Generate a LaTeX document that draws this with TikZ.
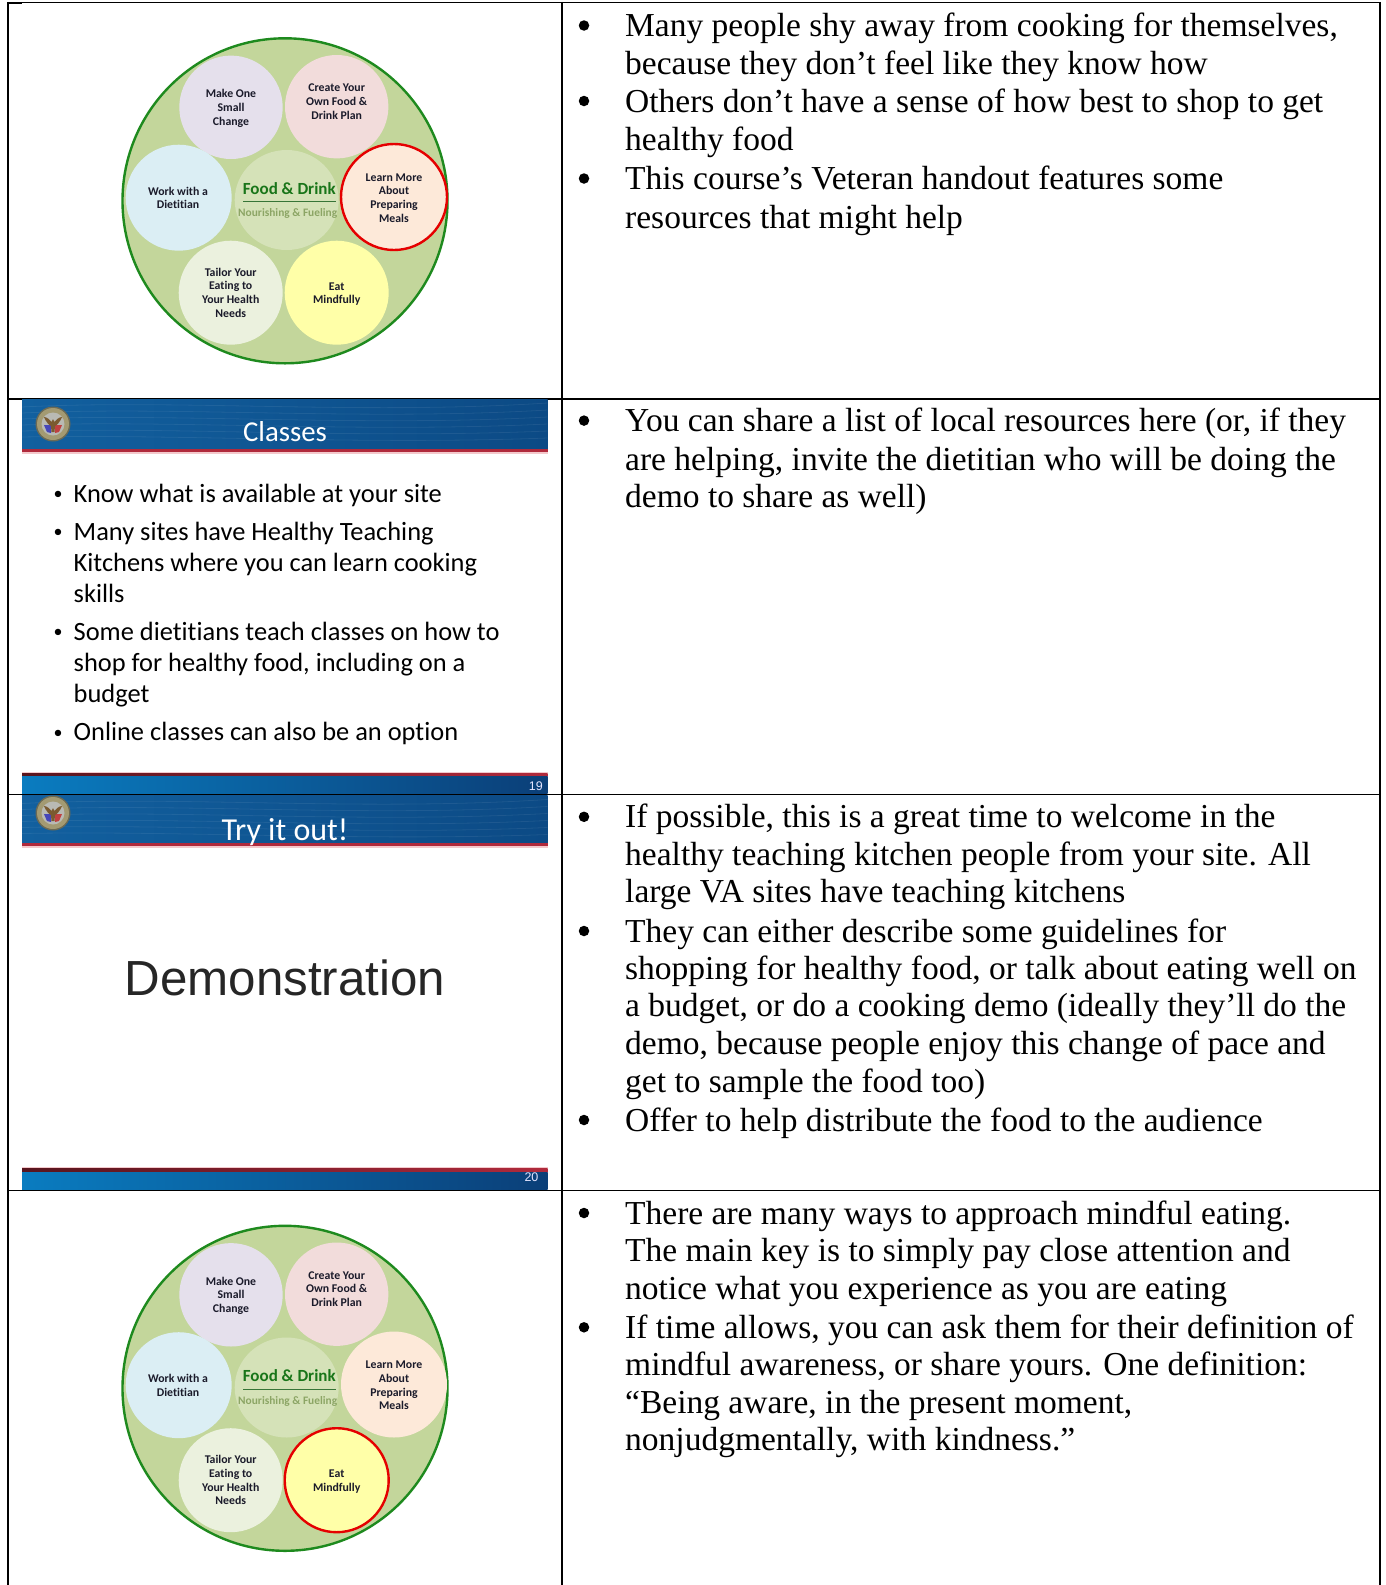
\documentclass[tikz,border=0pt]{standalone}
\usepackage{fontspec}
\setmainfont{Liberation Serif}
\newfontfamily\camfont{Liberation Serif}
\newfontfamily\calfont[Ligatures=NoCommon]{Carlito}
\newfontfamily\arifont{Liberation Sans}
\definecolor{platefill}{HTML}{C3D69B}
\definecolor{plateline}{HTML}{1E8A1E}
\definecolor{centerfill}{HTML}{D5E2B8}
\definecolor{vablue}{HTML}{12609F}
\definecolor{varight}{HTML}{0C4A85}
\definecolor{footleft}{HTML}{0A7CC0}
\definecolor{footright}{HTML}{0B3F78}
\definecolor{varred}{HTML}{B02A3C}
\definecolor{varpink}{HTML}{F4C9CC}
\definecolor{labeltext}{HTML}{1A1A2A}
\definecolor{nourish}{HTML}{8CA565}
\definecolor{cmake}{HTML}{E5E0EC}
\definecolor{ccreate}{HTML}{F2DCDB}
\definecolor{cwork}{HTML}{DBEEF4}
\definecolor{clearn}{HTML}{FDE9D9}
\definecolor{ctailor}{HTML}{EBF1DE}
\definecolor{ceat}{HTML}{FFFFA8}
\definecolor{ringtan}{HTML}{A39A72}
\definecolor{ringdark}{HTML}{6B6A55}
\definecolor{emblemin}{HTML}{B9BAB4}
\definecolor{eaglebr}{HTML}{7A5A30}
\tikzset{
  vline/.style={line width=2.4pt,black},
  hline/.style={line width=1.5pt,black},
  rtext/.style={anchor=base west,inner sep=0pt,font=\camfont\fontsize{33.5}{38}\selectfont},
  rbullet/.style={circle,fill=black,inner sep=0pt,minimum size=10.5pt},
  stext/.style={anchor=base west,inner sep=0pt,font=\calfont\fontsize{26.4}{31}\selectfont},
  sbullet/.style={anchor=base,inner sep=0pt,font=\calfont\fontsize{18}{20}\selectfont},
  slidetitle/.style={anchor=base,inner sep=0pt,text=white,font=\calfont},
  slidenum/.style={anchor=base east,inner sep=0pt,text=white!90!blue,font=\arifont\fontsize{12.5}{14}\selectfont},
  plabel/.style={align=center,inner sep=0pt,text=labeltext,font=\calfont\bfseries\fontsize{11.8}{13.7}\selectfont},
  pcirc/.style={circle,inner sep=0pt,minimum size=#1},
  hilite/.style={draw=red!90!black,line width=2.4pt},
  nohilite/.style={},
}
\newcommand{\plate}[4]{%
  \begin{scope}[yshift=-#2pt]
    \node[circle,draw=plateline,line width=2.4pt,fill=platefill,minimum size=325pt,inner sep=0pt] (#1outer) at (285,200.8) {};
    \fill[centerfill] (286.7,200) ellipse [x radius=52,y radius=50];
    \node[pcirc=103.4pt,fill=cmake] (#1mk) at (231,107.3) {};
    \node[pcirc=103.4pt,fill=ccreate] (#1cr) at (336.7,106.7) {};
    \node[pcirc=106pt,fill=cwork] (#1wk) at (178.7,197.7) {};
    \node[pcirc=104pt,fill=ctailor] (#1tl) at (230.7,292.7) {};
    \node[pcirc=106pt,fill=clearn,#3] (#1lr) at (394,197) {};
    \node[pcirc=104pt,fill=ceat,#4] (#1ea) at (336.7,292.7) {};
    \node[plabel] (#1mkt) at (231,108.3) {Make One\\Small\\Change};
    \node[plabel] (#1crt) at (336.7,101.5) {Create Your\\Own Food \&\\Drink Plan};
    \node[plabel] (#1wkt) at (178,198) {Work with a\\Dietitian};
    \node[plabel] (#1lrt) at (394,198) {Learn More\\About\\Preparing\\Meals};
    \node[plabel] (#1tlt) at (230.7,292.7) {Tailor Your\\Eating to\\Your Health\\Needs};
    \node[plabel] (#1eat) at (336.7,294) {Eat\\Mindfully};
    \node[anchor=base,inner sep=0pt,text=plateline!85!black,font=\calfont\bfseries\fontsize{17}{20}\selectfont] (#1fd) at (289.3,194) {Food \& Drink};
    \draw[line width=1pt,black!20!plateline!70!gray] (243,201.7) -- (336,201.7);
    \node[anchor=base,inner sep=0pt,text=nourish,font=\calfont\bfseries\fontsize{11.4}{14}\selectfont] (#1nr) at (287.7,216.7) {Nourishing \& Fueling};
  \end{scope}}
\newcommand{\emblem}[3]{%
  \begin{scope}[shift={(#2,#3)}]
    \node[circle,fill=ringdark,minimum size=35pt,inner sep=0pt] (#1ring) at (0,0) {};
    \node[circle,fill=ringtan,minimum size=32pt,inner sep=0pt] (#1gold) at (0,0) {};
    \node[circle,fill=emblemin,minimum size=23pt,inner sep=0pt] (#1in) at (0,0) {};
    \fill[blue!45!gray] (-9,1) -- (-2,1) -- (-2,9) -- (-6,8) -- cycle;
    \fill[red!50!gray] (9,1) -- (2,1) -- (2,9) -- (6,8) -- cycle;
    \fill[eaglebr] (-9,-7) .. controls (-7,-2) and (-4,1) .. (-2,2) -- (-1.5,8) -- (1.5,8) -- (2,2) .. controls (4,1) and (7,-2) .. (9,-7) .. controls (6,-7) and (3,-4) .. (1.5,-2) -- (0,-5) -- (-1.5,-2) .. controls (-3,-4) and (-6,-7) .. (-9,-7) -- cycle;
  \end{scope}}
\newcommand{\banner}[3]{% name, top y, bottom y of blue
  \shade[left color=vablue,right color=varight] (22,#2) rectangle (547.5,#3);
  \begin{scope}
    \clip (22,#2) rectangle (547.5,#3);
    \foreach \k in {0,1,...,5}
      \draw[white,opacity=.07,line width=.8pt] (22,#2+8+\k*6) .. controls (180,#2+\k*7) and (360,#2+16+\k*6) .. (547.5,#2+4+\k*7);
  \end{scope}
  \fill[varred] (22,#3) rectangle (547.5,#3+3.4);
  \fill[varpink] (22,#3+3.4) rectangle (547.5,#3+5.4);
}
\newcommand{\footer}[2]{% top y, bottom y
  \fill[varpink] (22,#1) rectangle (547.5,#1+1.4);
  \shade[left color=black!50!varred,right color=varred] (22,#1+1.4) rectangle (547.5,#1+5);
  \shade[left color=footleft,right color=footright] (22,#1+5) rectangle (547.5,#2);
}
\begin{document}
\begin{tikzpicture}[x=1pt,y=-1pt]
\useasboundingbox (0,0) rectangle (1385,1585);
\fill[white] (0,0) rectangle (1385,1585);
% grid
\coordinate (tl) at (8,2.6);
\coordinate (tm) at (562,2.6);
\coordinate (tr) at (1380,2.6);
\coordinate (bl) at (8,1585);
\coordinate (bm) at (562,1585);
\coordinate (br) at (1380,1585);
\draw[vline] (8,1.8) -- (bl);
\draw[vline] (562,1.8) -- (bm);
\draw[vline] (1380,1.8) -- (br);
\draw[hline] (tl) -- (tr);
\draw[vline] (8,3) -- (22,3);
\draw[hline] (8,399) -- (1380,399);
\draw[hline] (8,794.3) -- (1380,794.3);
\draw[hline] (8,1190.7) -- (1380,1190.7);
% plates
\plate{a}{0}{hilite}{nohilite}
\plate{b}{1187.5}{nohilite}{hilite}
% slide 2
\banner{c}{399}{449}
\emblem{c}{53}{424}
\node[slidetitle,font=\calfont\fontsize{28.8}{32}\selectfont] (ctitle) at (285,441) {Classes};
\node[sbullet] (s1b) at (58,499.5) {•};
\node[stext] (s1) at (73.5,502.5) {Know what is available at your site};
\node[sbullet] (s2b) at (58,537.5) {•};
\node[stext] (s2) at (73.5,540) {Many sites have Healthy Teaching};
\node[stext] (s3) at (73.5,571.5) {Kitchens where you can learn cooking};
\node[stext] (s4) at (73.5,602.5) {skills};
\node[sbullet] (s5b) at (58,637.5) {•};
\node[stext] (s5) at (73.5,640) {Some dietitians teach classes on how to};
\node[stext] (s6) at (73.5,671.5) {shop for healthy food, including on a};
\node[stext] (s7) at (73.5,702.5) {budget};
\node[sbullet] (s8b) at (58,738) {•};
\node[stext] (s8) at (73.5,740.7) {Online classes can also be an option};
\footer{771.7}{793}
\node[slidenum] (n19) at (543,790.5) {19};
% slide 3
\banner{d}{795.5}{843}
\emblem{d}{53}{813}
\node[slidetitle,font=\calfont\fontsize{32}{36}\selectfont] (dtitle) at (285,840) {Try it out!};
\node[anchor=base,inner sep=0pt,font=\arifont\fontsize{49.3}{56}\selectfont,text=black!85] (demo) at (285,995.5) {Demonstration};
\footer{1167}{1189.5}
\node[slidenum] (n20) at (538.6,1181.7) {20};
% right column
\foreach \n/\y in {r1/25.5,r3/101,r5/178.5,r7/420.6,r10/816.8,r13/931,r18/1120,r19/1213,r22/1327.3}
  \node[rbullet] (\n b) at (584,\y) {};
\node[rtext] (r1) at (625,36.5) {Many people shy away from cooking for themselves,};
\node[rtext] (r2) at (625,74) {because they don’t feel like they know how};
\node[rtext] (r3) at (625,112) {Others don’t have a sense of how best to shop to get};
\node[rtext] (r4) at (625,150.5) {healthy food};
\node[rtext] (r5) at (625,189.5) {This course’s Veteran handout features some};
\node[rtext] (r6) at (625,228) {resources that might help};
\node[rtext] (r7) at (625,431.6) {You can share a list of local resources here (or, if they};
\node[rtext] (r8) at (625,470) {are helping, invite the dietitian who will be doing the};
\node[rtext] (r9) at (625,507.4) {demo to share as well)};
\node[rtext] (r10) at (625,827.8) {If possible, this is a great time to welcome in the};
\node[rtext] (r11) at (625,865.2) {healthy teaching kitchen people from your site.  All};
\node[rtext] (r12) at (625,902.6) {large VA sites have teaching kitchens};
\node[rtext] (r13) at (625,942) {They can either describe some guidelines for};
\node[rtext] (r14) at (625,979.4) {shopping for healthy food, or talk about eating well on};
\node[rtext] (r15) at (625,1016.8) {a budget, or do a cooking demo (ideally they’ll do the};
\node[rtext] (r16) at (625,1054.2) {demo, because people enjoy this change of pace and};
\node[rtext] (r17) at (625,1092.7) {get to sample the food too)};
\node[rtext] (r18) at (625,1131) {Offer to help distribute the food to the audience};
\node[rtext] (r19) at (625,1224) {There are many ways to approach mindful eating.};
\node[rtext] (r20) at (625,1261.5) {The main key is to simply pay close attention and};
\node[rtext] (r21) at (625,1299.8) {notice what you experience as you are eating};
\node[rtext] (r22) at (625,1338.3) {If time allows, you can ask them for their definition of};
\node[rtext] (r23) at (625,1375.7) {mindful awareness, or share yours.  One definition:};
\node[rtext] (r24) at (625,1413) {“Being aware, in the present moment,};
\node[rtext] (r25) at (625,1450.5) {nonjudgmentally, with kindness.”};
\end{tikzpicture}
\end{document}
